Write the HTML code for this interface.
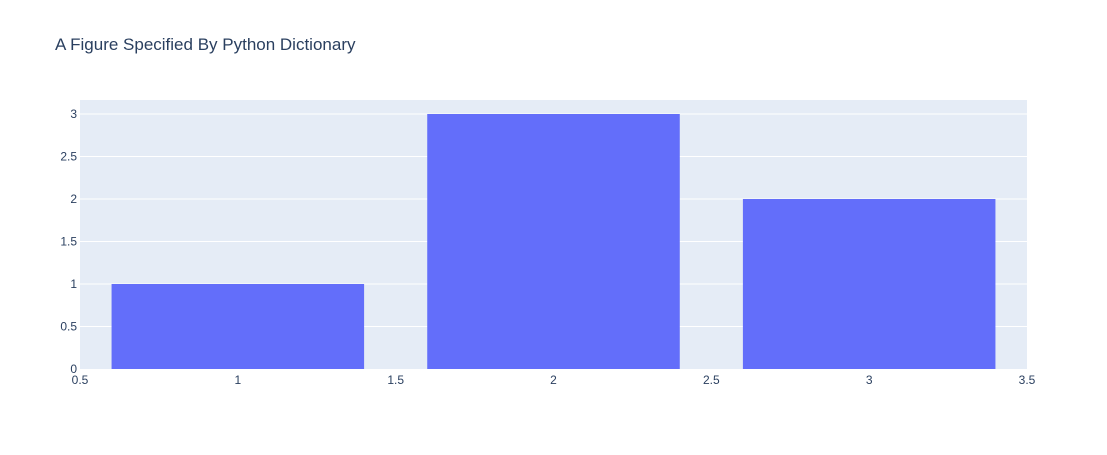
<!DOCTYPE html>
<html><head><meta charset="utf-8">
<style>
body{margin:0;background:#fff;}
svg text{font-family:"Liberation Sans",Arial,sans-serif;}
</style></head>
<body>
<svg id="chart" width="1107" height="450" xmlns="http://www.w3.org/2000/svg">
<rect width="1107" height="450" fill="#fff"/>
<text x="55" y="50" font-size="17" fill="#2a3f5f">A Figure Specified By Python Dictionary</text>
<rect x="80" y="100" width="947" height="269" fill="#e5ecf6"/>
<g id="grid"></g><g id="bars"></g><g id="xticks"></g><g id="yticks"></g>
</svg>
<script>
const categories = [1, 2, 3];
const values = [1, 3, 2];
const xTicks = [0.5, 1, 1.5, 2, 2.5, 3, 3.5];
const xTickLabels = ["0.5", "1", "1.5", "2", "2.5", "3", "3.5"];
const yTicks = [0, 0.5, 1, 1.5, 2, 2.5, 3];
const yTickLabels = ["0", "0.5", "1", "1.5", "2", "2.5", "3"];
const barWidth = 0.8;

const NS = "http://www.w3.org/2000/svg";
const L = 80, R = 1027, T = 100, B = 369;
const xMin = 0.5, xMax = 3.5, yMin = 0, yMax = 3.1647;
const xs = v => L + (v - xMin) / (xMax - xMin) * (R - L);
const ys = v => B - (v - yMin) / (yMax - yMin) * (B - T);
function mk(tag, attrs, parent) {
  const e = document.createElementNS(NS, tag);
  for (const k in attrs) e.setAttribute(k, attrs[k]);
  document.getElementById(parent).appendChild(e);
  return e;
}
yTicks.forEach((t, i) => {
  if (t !== 0) {
    const g = mk("line", {x1: L, x2: R, y1: ys(t), y2: ys(t), stroke: "#fff", "stroke-width": 1}, "grid");
    
    
  }
  const tx = mk("text", {x: L - 3, y: ys(t) + 4, "text-anchor": "end", "font-size": 12, fill: "#2a3f5f"}, "yticks");
  tx.textContent = yTickLabels[i];
  
  
});
categories.forEach((c, i) => {
  const x0 = xs(c - barWidth / 2), x1 = xs(c + barWidth / 2);
  const r = mk("rect", {x: x0, y: ys(values[i]), width: x1 - x0, height: ys(0) - ys(values[i]), fill: "#636efa"}, "bars");
  
  
});
xTicks.forEach((t, i) => {
  const tx = mk("text", {x: xs(t), y: B + 15, "text-anchor": "middle", "font-size": 12, fill: "#2a3f5f"}, "xticks");
  tx.textContent = xTickLabels[i];
  
  
});
</script>
</body></html>
